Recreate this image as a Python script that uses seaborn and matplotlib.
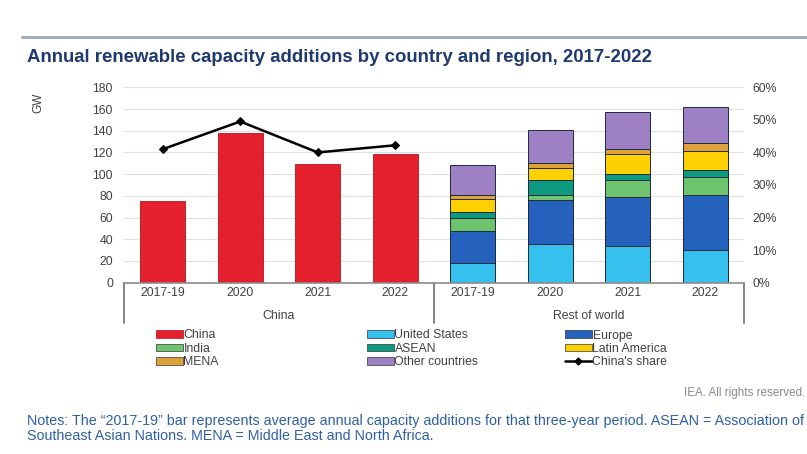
import matplotlib
matplotlib.use("Agg")
import matplotlib.pyplot as plt
import matplotlib.transforms as mtransforms
from matplotlib.patches import Patch
from matplotlib.lines import Line2D
import seaborn as sns
import pandas as pd

# ---------------- data ----------------
periods = ["2017-19", "2020", "2021", "2022"]
groups = ["China", "Rest of world"]
china = [75, 137.5, 109, 118.5]
china_share = [41, 49.5, 40, 42.2]          # percent
united_states = [18, 35.5, 34, 30]
europe = [29.5, 40.5, 44.5, 50.5]
india = [12, 4.5, 16, 16.5]
asean = [5.5, 14, 6, 6.5]
latin_america = [12.5, 11.5, 18.5, 18]
mena = [3, 4, 4.5, 7]
other_countries = [28, 31, 33.5, 33.5]
left_ticks = [0, 20, 40, 60, 80, 100, 120, 140, 160, 180]
right_ticks = [0, 10, 20, 30, 40, 50, 60]

# ---------------- style ----------------
sns.set_theme(style="white")
plt.rcParams["font.family"] = ["Liberation Sans", "DejaVu Sans"]

RED = "#E3202C"
TXT = "#404040"
colors = {
    "United States": "#36C0EE",
    "Europe": "#2462BE",
    "India": "#6EC36E",
    "ASEAN": "#0D9A80",
    "Latin America": "#FFD000",
    "MENA": "#DFA13A",
    "Other countries": "#9E80C4",
}
rest = {
    "United States": united_states,
    "Europe": europe,
    "India": india,
    "ASEAN": asean,
    "Latin America": latin_america,
    "MENA": mena,
    "Other countries": other_countries,
}

order = [f"China|{p}" for p in periods] + [f"Rest|{p}" for p in periods]

fig = plt.figure(figsize=(8.07, 4.54), dpi=100)
ax = fig.add_axes([124 / 807, 1 - 282.7 / 454, 620 / 807, 195.4 / 454])

# China bars
df_china = pd.DataFrame({"cat": [f"China|{p}" for p in periods], "value": china})
sns.barplot(data=df_china, x="cat", y="value", order=order, color=RED,
            saturation=1, width=0.58, edgecolor="#B0141E", linewidth=0.6, ax=ax)

# Rest of world stacked bars (draw cumulative totals from the top layer down)
names = list(rest.keys())
cum = []
running = [0.0] * len(periods)
for n in names:
    running = [r + v for r, v in zip(running, rest[n])]
    cum.append(list(running))
for n, c in reversed(list(zip(names, cum))):
    df_r = pd.DataFrame({"cat": [f"Rest|{p}" for p in periods], "value": c})
    sns.barplot(data=df_r, x="cat", y="value", order=order, color=colors[n],
                saturation=1, width=0.58, edgecolor="#1d2b3a", linewidth=0.7, ax=ax)

ax.set_xlim(-0.5, 7.5)
ax.set_ylim(0, 180)
ax.set_yticks(left_ticks)
ax.set_yticklabels([str(t) for t in left_ticks])
ax.set_xticks(range(8))
ax.set_xticklabels(periods + periods)
ax.set_xlabel("")
ax.set_ylabel("")
ax.yaxis.grid(True, color="#E0E0E0", linewidth=0.8)
ax.set_axisbelow(True)
for s in ["left", "right", "top"]:
    ax.spines[s].set_visible(False)
ax.spines["bottom"].set_color("#8C8C8C")
ax.spines["bottom"].set_linewidth(1.2)
ax.tick_params(axis="both", length=0, labelsize=8.8, colors=TXT)
ax.tick_params(axis="y", pad=8)
ax.tick_params(axis="x", pad=3)

# China's share line on secondary axis
ax2 = ax.twinx()
df_share = pd.DataFrame({"pos": list(range(len(periods))), "share": china_share})
sns.lineplot(data=df_share, x="pos", y="share", color="black", linewidth=1.8,
             marker="D", markersize=4.5, markeredgecolor="black", ax=ax2)
ax2.set_ylim(0, 60)
ax2.set_yticks(right_ticks)
ax2.set_yticklabels([f"{t}%" for t in right_ticks])
ax2.set_ylabel("")
for s in ["left", "right", "top", "bottom"]:
    ax2.spines[s].set_visible(False)
ax2.tick_params(axis="y", length=0, labelsize=8.8, colors=TXT, pad=6)
ax2.set_xlim(-0.5, 7.5)

# group brackets
trans = mtransforms.blended_transform_factory(ax.transData, ax.transAxes)
for xb in [-0.5, 3.5, 7.5]:
    ax.plot([xb, xb], [0, -0.207], transform=trans, color="#6E6E6E",
            linewidth=1.2, clip_on=False)
for xg, g in zip([1.5, 5.5], groups):
    ax.text(xg, -0.17, g, transform=trans, ha="center", va="center",
            fontsize=8.8, color=TXT)

# GW label
fig.text(38 / 807, 1 - 103 / 454, "GW", rotation=90, ha="center", va="center",
         fontsize=8.5, color=TXT)

# title and rule
fig.add_artist(Line2D([22 / 807, 1.0], [1 - 37 / 454, 1 - 37 / 454],
                      color="#A4ADBD", linewidth=2.2))
fig.text(27 / 807, 1 - 58 / 454,
         "Annual renewable capacity additions by country and region, 2017-2022",
         ha="left", va="center", fontsize=13.4, fontweight="bold", color="#1F3A6E")

# legends (three columns)
def patch(c, ec="#333333"):
    return Patch(facecolor=c, edgecolor=ec, linewidth=0.5)

col1 = [(patch(RED, "#B0141E"), "China"), (patch(colors["India"]), "India"),
        (patch(colors["MENA"]), "MENA")]
col2 = [(patch(colors["United States"]), "United States"),
        (patch(colors["ASEAN"]), "ASEAN"),
        (patch(colors["Other countries"]), "Other countries")]
col3 = [(patch(colors["Europe"]), "Europe"),
        (patch(colors["Latin America"]), "Latin America"),
        (Line2D([0], [0], color="black", linewidth=1.8, marker="D", markersize=3.5),
         "China's share")]
for items, xl in zip([col1, col2, col3], [156, 367, 565]):
    leg = fig.legend([h for h, _ in items], [l for _, l in items],
                     loc="upper left", bbox_to_anchor=(xl / 807, 1 - 329.5 / 454),
                     frameon=False, fontsize=8.8, handlelength=2.2,
                     handleheight=0.6, handletextpad=0.05, labelspacing=0.1,
                     borderpad=0, borderaxespad=0)
    for t in leg.get_texts():
        t.set_color(TXT)

# source and notes
fig.text(805 / 807, 1 - 393 / 454, "IEA. All rights reserved.", ha="right",
         va="center", fontsize=8.4, color="#8A8A8A")
fig.text(27 / 807, 1 - 421 / 454,
         "Notes: The \u201c2017-19\u201d bar represents average annual capacity additions for that "
         "three-year period. ASEAN = Association of",
         ha="left", va="center", fontsize=10.3, color="#2F5FA7")
fig.text(27 / 807, 1 - 436 / 454,
         "Southeast Asian Nations. MENA = Middle East and North Africa.",
         ha="left", va="center", fontsize=10.3, color="#2F5FA7")

fig.savefig("out.png", dpi=100)
